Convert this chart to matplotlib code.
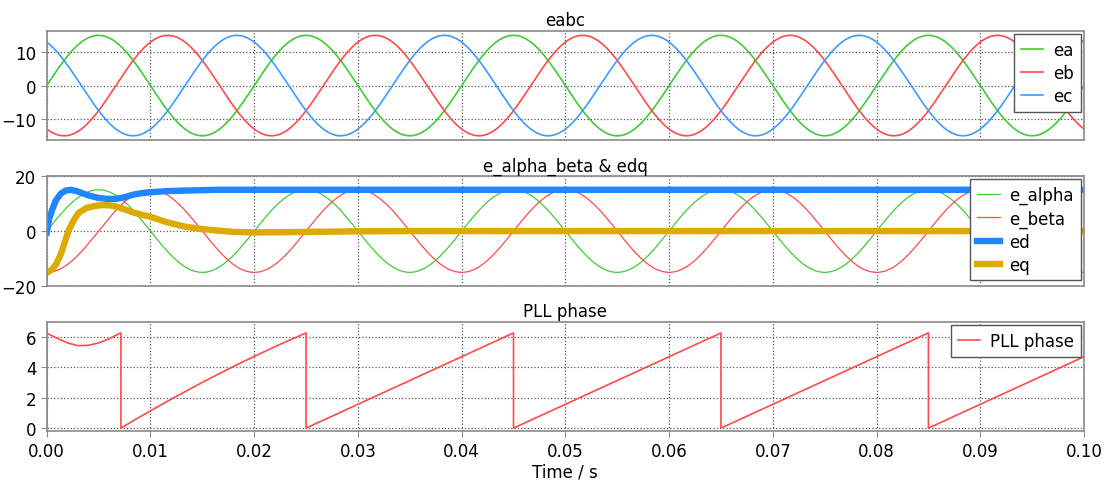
import numpy as np
import matplotlib
matplotlib.use('Agg')
import matplotlib.pyplot as plt

# three phase source: amplitude, frequency, phase offsets
amp = 15.0
freq = 50.0
abc_names = ['ea', 'eb', 'ec']
abc_phase_deg = [0, -120, 120]
abc_colors = ['#3fcc33', '#ff4a4a', '#3d9bff']

# alpha/beta: e_alpha = ea, e_beta lags by 90 deg
ab_names = ['e_alpha', 'e_beta']
ab_phase_deg = [0, -90]

# dq transient (ms)
t_ed_ms = [0, 0.23, 0.55, 0.87, 1.35, 1.8, 2.3, 2.9, 3.9, 4.9, 5.8, 6.7, 7.5, 8.3,
           9.2, 10, 11.5, 13.2, 16.4, 100]
ed = [-0.6, 4.4, 8.0, 11.1, 13.6, 14.7, 15.0, 14.5, 13.1, 12.1, 11.7, 11.7, 12.3, 13.2,
      13.8, 14.1, 14.5, 14.7, 15.0, 15.0]
t_eq_ms = [0, 0.25, 0.5, 0.9, 1.35, 1.8, 2.15, 2.65, 3.1, 3.9, 4.9, 5.5, 6.2, 6.7, 7.5,
           8.3, 9.2, 10, 11.5, 13.2, 14.8, 16.4, 18, 20, 22, 25, 30, 35, 100]
eq = [-15, -14.7, -13.9, -12.1, -8.5, -3.3, 0.6, 4.2, 6.7, 8.5, 9.3, 9.45, 9.3, 8.9, 7.9,
      6.8, 5.9, 5.2, 3.3, 1.7, 0.8, 0.2, -0.3, -0.5, -0.45, -0.3, -0.1, 0, 0]

# PLL phase (ms, rad)
t_pll_ms = [0, 0, 1, 2, 3, 4, 5, 6, 7, 7.15, 7.15, 8.5, 10, 12, 15, 18, 20, 22.5, 25,
            25, 45, 45, 65, 65, 85, 85, 100]
pll = [0, 6.26, 5.93, 5.62, 5.44, 5.46, 5.62, 5.89, 6.24, 6.28, 0, 0.55, 1.14, 1.91,
       3.02, 4.07, 4.73, 5.53, 6.28, 0, 6.28, 0, 6.28, 0, 6.28, 0, 4.71]

xticks = [0.00, 0.01, 0.02, 0.03, 0.04, 0.05, 0.06, 0.07, 0.08, 0.09, 0.10]

plt.rcParams['font.family'] = ['DejaVu Sans']
plt.rcParams['font.size'] = 12

t = np.linspace(0, 0.1, 2001)
w = 2 * np.pi * freq

fig = plt.figure(figsize=(11.05, 4.85), dpi=100)
ax1 = fig.add_axes([0.0423, 0.709, 0.9387, 0.225])
ax2 = fig.add_axes([0.0423, 0.408, 0.9387, 0.227])
ax3 = fig.add_axes([0.0423, 0.109, 0.9387, 0.225])


def style(ax, title):
  ax.set_title(title, fontsize=12, pad=4)
  ax.set_xlim(0, 0.1)
  ax.set_xticks(xticks)
  ax.grid(True, color='#555555', linestyle=':', linewidth=0.9)
  for s in ax.spines.values():
    s.set_color('#8a8a8a')
    s.set_linewidth(1.2)
  ax.tick_params(colors='#8a8a8a', labelcolor='black', length=4, labelsize=12)


def legend(ax):
  lg = ax.legend(loc='upper right', fancybox=False, framealpha=1, fontsize=12,
                 edgecolor='#555555', borderaxespad=0.2, handlelength=1.35,
                 handletextpad=0.6, borderpad=0.4, labelspacing=0.3)
  lg.get_frame().set_linewidth(1.0)


# panel 1: eabc
for name, ph, c in zip(abc_names, abc_phase_deg, abc_colors):
  ax1.plot(t, amp * np.sin(w * t + np.deg2rad(ph)), color=c, lw=1.2, label=name)
style(ax1, 'eabc')
ax1.set_ylim(-16.3, 16.3)
ax1.set_yticks([-10, 0, 10])
ax1.tick_params(axis='x', labelbottom=False, length=0)
legend(ax1)

# panel 2: alpha/beta and dq
for name, ph, c in zip(ab_names, ab_phase_deg, abc_colors[:2]):
  ax2.plot(t, amp * np.sin(w * t + np.deg2rad(ph)), color=c, lw=0.9, label=name)
ax2.plot(np.array(t_ed_ms) / 1000, ed, color='#1f86ff', lw=4.6, label='ed')
ax2.plot(np.array(t_eq_ms) / 1000, eq, color='#dcaa00', lw=4.6, label='eq')
style(ax2, 'e_alpha_beta & edq')
ax2.set_ylim(-20, 20)
ax2.set_yticks([-20, 0, 20])
ax2.tick_params(axis='x', labelbottom=False, length=0)
legend(ax2)

# panel 3: PLL phase
ax3.plot(np.array(t_pll_ms) / 1000, pll, color='#ff4a4a', lw=1.2, label='PLL phase')
style(ax3, 'PLL phase')
ax3.set_ylim(-0.2, 7.0)
ax3.set_yticks([0, 2, 4, 6])
ax3.set_xticklabels(['%.2f' % x for x in xticks])
ax3.set_xlabel('Time / s', fontsize=12, labelpad=2)
legend(ax3)

fig.savefig('out.png', dpi=100)
